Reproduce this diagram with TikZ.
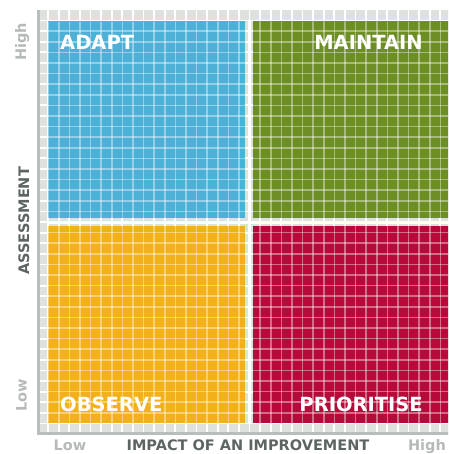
\documentclass[tikz,border=0pt]{standalone}
\usepackage{fontspec}
\setmainfont{DejaVu Sans}
\usepackage{xcolor}
\usepackage{tikz}
\definecolor{qblue}{HTML}{4DB0D7}
\definecolor{qgreen}{HTML}{6C8E23}
\definecolor{qorange}{HTML}{F2B11B}
\definecolor{qred}{HTML}{B70A3A}
\definecolor{panelgray}{HTML}{DDE2DF}
\definecolor{edgegray}{HTML}{B8BEBA}
\definecolor{axisdark}{HTML}{5C6561}
\definecolor{axislight}{HTML}{B5BAB7}

\begin{document}
\begin{tikzpicture}[
  x=1pt, y=-1pt,
  gridw/.style={white, line width=1.8pt},
  gridq/.style={white, opacity=0.4, line width=1.6pt},
  qlabel/.style={font=\bfseries\fontsize{19.5}{20}\selectfont, text=white, inner sep=0pt},
  axlabel/.style={font=\bfseries\fontsize{14.5}{15}\selectfont, text=axisdark, inner sep=0pt},
  axend/.style={font=\bfseries\fontsize{14.5}{15}\selectfont, text=axislight, inner sep=0pt},
]

\useasboundingbox (0,0) rectangle (448,454);
\clip (0,0) rectangle (448,454);

\fill [panelgray] (37.5,10) rectangle (462,434);
\foreach \i in {1,...,40}
  \draw [gridw] ({37.5+10.6*\i},10) -- ({37.5+10.6*\i},434);
\foreach \j in {1,...,39}
  \draw [gridw] (37.5,{10+10.6*\j}) -- (462,{10+10.6*\j});
\fill [edgegray] (37,10) rectangle (40,435);
\fill [edgegray] (37,432) rectangle (462,435);

\fill [qblue] (48,21.5) rectangle (245,218);
\fill [qgreen] (253,21.5) rectangle (462,218);
\fill [qorange] (48,226) rectangle (245,423);
\fill [qred] (253,226) rectangle (462,423);

\begin{scope}
  \clip (48,21.5) rectangle (245,218) (253,21.5) rectangle (462,218)
        (48,226) rectangle (245,423) (253,226) rectangle (462,423);
  \foreach \i in {1,...,40}
    \draw [gridq] ({37.5+10.6*\i},10) -- ({37.5+10.6*\i},434);
  \foreach \j in {1,...,39}
    \draw [gridq] (37.5,{10+10.6*\j}) -- (462,{10+10.6*\j});
\end{scope}

\draw [white, line width=3pt] (249,21.5) -- (249,423);
\draw [white, line width=3pt] (48,222) -- (462,222);

\node (adapt) [qlabel, anchor=base west] at (60,50) {ADAPT};
\node (maintain) [qlabel, anchor=base east] at (423,50) {MAINTAIN};
\node (observe) [qlabel, anchor=base west] at (60,411) {OBSERVE};
\node (prioritise) [qlabel, anchor=base east] at (423,411) {PRIORITISE};

\node (yhigh) [axend, rotate=90, anchor=base] at (26,42) {High};
\node (ytitle) [axlabel, rotate=90, anchor=base] at (29,221) {ASSESSMENT};
\node (ylow) [axend, rotate=90, anchor=base] at (26.5,395) {Low};

\node (xlow) [axend, anchor=base] at (70,450) {Low};
\node (xtitle) [axlabel, anchor=base] at (248,450) {IMPACT OF AN IMPROVEMENT};
\node (xhigh) [axend, anchor=base] at (427,450) {High};

\end{tikzpicture}
\end{document}
